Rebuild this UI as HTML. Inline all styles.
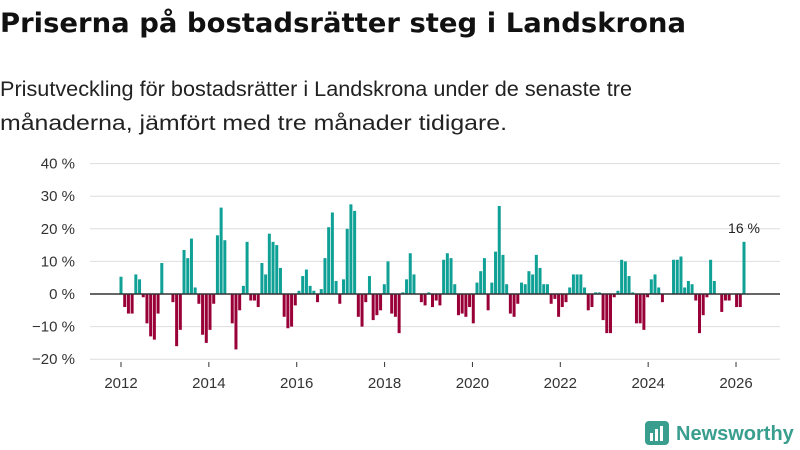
<!DOCTYPE html>
<html><head><meta charset="utf-8">
<style>
body{margin:0;width:800px;height:450px;background:#fff;font-family:"Liberation Sans","DejaVu Sans",sans-serif;overflow:hidden}
svg{display:block}
</style></head>
<body>
<svg width="800" height="450">
<text x="0" y="32" font-size="27" font-weight="bold" fill="#111" font-family="DejaVu Sans, sans-serif" textLength="686" lengthAdjust="spacingAndGlyphs">Priserna på bostadsrätter steg i Landskrona</text>
<text x="0" y="96" font-size="21.5" fill="#222" textLength="632" lengthAdjust="spacingAndGlyphs">Prisutveckling för bostadsrätter i Landskrona under de senaste tre</text>
<text x="0" y="130" font-size="21.5" fill="#222" textLength="507" lengthAdjust="spacingAndGlyphs">månaderna, jämfört med tre månader tidigare.</text>
<g id="grid"></g>
<g id="bars"></g>
<g id="axes"></g>
<g>
<rect x="645" y="421" width="24" height="24" rx="4" fill="#3a9e8f"/>
<rect x="650" y="433" width="3" height="8" fill="#fff"/><rect x="655" y="429" width="3" height="12" fill="#fff"/><rect x="660" y="426" width="3" height="15" fill="#fff"/>
<text x="676" y="440" font-size="20" font-weight="bold" fill="#3a9e8f">Newsworthy</text>
</g>
</svg>
<script>
const values=[5.3,-4,-6,-6,6,4.5,-1,-9,-13,-14,-6,9.5,0,0,-2.5,-16,-11,13.5,11,17,2,-3,-12.5,-15,-11,-3,18,26.5,16.5,0,-9,-17,-5,2.5,16,-2,-2,-4,9.5,6,18.5,16,15,8,-7,
-10.5,-10,-3.5,1,5.5,7.5,2.5,1,-2.5,1.5,11,20.5,25,4,-3,4.5,20,27.5,25.5,-7,-10,-2.5,5.5,-8,-6.5,-5,3,10,-6,-7,-12,0.5,4.5,12.5,6,0,-2.5,-3.5,0.5,-4,-2,-3.5,10.5,12.5,11,3,
-6.5,-6,-7,-4,-9,3.5,7,11,-5,3.5,13,27,12,3,-6,-7,-3,3.5,3,7,6,12,8,3,3,-3,-1.5,-7,-4,-2.5,2,6,6,6,2,-5,-4,0.5,0.5,-8,-12,
-12,-1,1,10.5,10,5.5,0.5,-9,-9,-11,-1,4.5,6,2,-2.5,0,0,10.5,10.5,11.5,2,4,3,-2,-12,-6.5,-1,10.5,4,0,-5.5,-2,-2,0,-4,-4,16];
const yTicks=[-20,-10,0,10,20,30,40];
const yTickLabels=["−20 %","−10 %","0 %","10 %","20 %","30 %","40 %"];
const xYears=[2012,2014,2016,2018,2020,2022,2024,2026];
const startYear=2012;
const lastLabel="16 %";
const NS="http://www.w3.org/2000/svg";
const y0=294,pxPer=3.26;
const yScale=v=>y0-v*pxPer;
const x2012=121,pxYear=43.93;
const xYear=yr=>x2012+(yr-startYear)*pxYear;
const step=(744-121)/(values.length-1);
const xIdx=i=>121+i*step;
function mk(tag,attrs,parent){const e=document.createElementNS(NS,tag);for(const k in attrs)e.setAttribute(k,attrs[k]);parent.appendChild(e);return e;}
const grid=document.getElementById('grid'),bars=document.getElementById('bars'),axes=document.getElementById('axes');
yTicks.forEach((t,i)=>{
 if(t!==0){const l=mk('line',{x1:90,x2:780,y1:yScale(t),y2:yScale(t),stroke:'#dedede','stroke-width':1},grid);
 
 }
 const tx=mk('text',{x:75,y:yScale(t)+5,'text-anchor':'end','font-size':15,fill:'#333'},axes);
 tx.textContent=yTickLabels[i];
 
 
});
values.forEach((v,i)=>{
 const r=mk('rect',{x:xIdx(i)-1.5,width:3,y:Math.min(yScale(v),y0),height:Math.abs(yScale(v)-y0),fill:v>=0?'#0fa096':'#9a0038'},bars);
 
 
});
const zl=mk('line',{x1:90,x2:780,y1:y0,y2:y0,stroke:'#333','stroke-width':1.5},axes);


xYears.forEach(yr=>{
 const tk=mk('line',{x1:xYear(yr),x2:xYear(yr),y1:362,y2:367,stroke:'#333'},axes);
 
 
 const tx=mk('text',{x:xYear(yr),y:388,'text-anchor':'middle','font-size':15,fill:'#333'},axes);
 tx.textContent=yr;
 
 
});
const li=values.length-1;
const lab=mk('text',{x:xIdx(li),y:yScale(values[li])-9,'text-anchor':'middle','font-size':14,fill:'#222'},axes);
lab.textContent=lastLabel;


</script>
</body></html>
